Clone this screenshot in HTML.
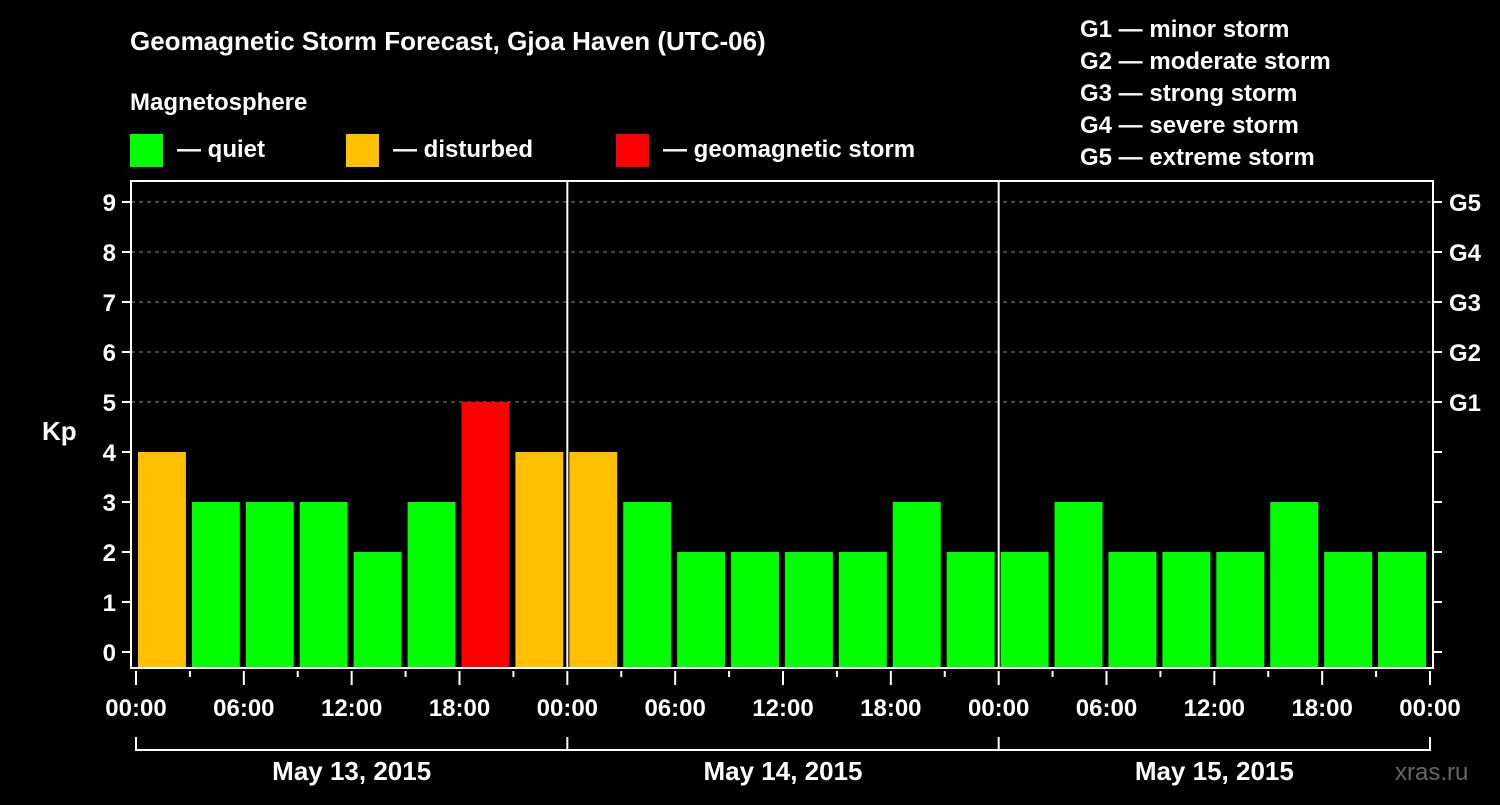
<!DOCTYPE html>
<html><head><meta charset="utf-8"><style>
body{margin:0;background:#000;}
svg text{font-family:"Liberation Sans",Arial,sans-serif;font-weight:bold;fill:#fff;}
</style></head><body>
<svg width="1500" height="800" xmlns="http://www.w3.org/2000/svg">
<rect width="1500" height="800" fill="#000"/>
<text x="130" y="50" font-size="26">Geomagnetic Storm Forecast, Gjoa Haven (UTC-06)</text>
<text x="130" y="110" font-size="24">Magnetosphere</text>
<g><rect x="130" y="134" width="33" height="33" fill="#00ff00"/><text x="177" y="157" font-size="24">— quiet</text></g>
<g><rect x="346" y="134" width="33" height="33" fill="#ffc000"/><text x="393" y="157" font-size="24">— disturbed</text></g>
<g><rect x="616" y="134" width="33" height="33" fill="#ff0000"/><text x="663" y="157" font-size="24">— geomagnetic storm</text></g>
<g font-size="24">
<text x="1080" y="37">G1 — minor storm</text>
<text x="1080" y="69">G2 — moderate storm</text>
<text x="1080" y="101">G3 — strong storm</text>
<text x="1080" y="133">G4 — severe storm</text>
<text x="1080" y="165">G5 — extreme storm</text>
</g>
<g id="grid"></g>
<g id="bars"></g>
<rect x="131" y="181" width="1302" height="487" fill="none" stroke="#fff" stroke-width="2"/>
<g id="axes"></g>
<text x="42" y="440" font-size="26">Kp</text>
<text x="1395" y="780" font-size="24" fill="#666" style="fill:#666;font-weight:normal">xras.ru</text>
</svg>
<script>
const kpValues=[4,3,3,3,2,3,5,4, 4,3,2,2,2,2,3,2, 2,3,2,2,2,3,2,2];
const dayLabels=["May 13, 2015","May 14, 2015","May 15, 2015"];
const timeLabels=["00:00","06:00","12:00","18:00"];
const gLabels=["G1","G2","G3","G4","G5"];
const NS="http://www.w3.org/2000/svg";
const X0=136,SLOT=(1430-136)/24;
const xs=i=>X0+i*SLOT;
const ys=v=>652-v*50;
function mk(tag,attrs,parent){const e=document.createElementNS(NS,tag);for(const k in attrs)e.setAttribute(k,attrs[k]);parent.appendChild(e);return e;}
const grid=document.getElementById('grid'),bars=document.getElementById('bars'),axes=document.getElementById('axes');
for(let v=5;v<=9;v++){const l=mk('line',{x1:131,x2:1433,y1:ys(v),y2:ys(v),stroke:'#888','stroke-dasharray':'4,4','stroke-width':1},grid);

}
kpValues.forEach((v,i)=>{const c=v>=5?'#ff0000':v>=4?'#ffc000':'#00ff00';
const r=mk('rect',{x:xs(i)+2,y:ys(v),width:SLOT-6,height:668-ys(v),fill:c},bars);

});
for(let v=0;v<=9;v++){
const t=mk('line',{x1:122,x2:131,y1:ys(v),y2:ys(v),stroke:'#fff','stroke-width':2},axes);


const t2=mk('line',{x1:1433,x2:1442,y1:ys(v),y2:ys(v),stroke:'#fff','stroke-width':2},axes);


const tx=mk('text',{x:116,y:ys(v)+9,'font-size':24,'text-anchor':'end'},axes);tx.textContent=v;


if(v>=5){const g=mk('text',{x:1449,y:ys(v)+9,'font-size':24},axes);g.textContent=gLabels[v-5];

}}
for(let d=1;d<3;d++){const l=mk('line',{x1:xs(d*8),x2:xs(d*8),y1:181,y2:668,stroke:'#fff','stroke-width':2},axes);

}
for(let i=0;i<=24;i++){const major=i%2===0;
const t=mk('line',{x1:xs(i),x2:xs(i),y1:671,y2:major?685:677,stroke:'#fff','stroke-width':2},axes);


if(major){const tx=mk('text',{x:xs(i),y:716,'font-size':24,'text-anchor':'middle'},axes);tx.textContent=timeLabels[(i/2)%4];

}}
const br=mk('polyline',{points:`${xs(0)},737 ${xs(0)},750 ${xs(24)},750 ${xs(24)},737`,fill:'none',stroke:'#fff','stroke-width':2},axes);


dayLabels.forEach((d,k)=>{
if(k>0){const l=mk('line',{x1:xs(k*8),x2:xs(k*8),y1:737,y2:750,stroke:'#fff','stroke-width':2},axes);

}
const tx=mk('text',{x:xs(k*8+4),y:780,'font-size':26,'text-anchor':'middle'},axes);tx.textContent=d;

});
</script>
</body></html>
